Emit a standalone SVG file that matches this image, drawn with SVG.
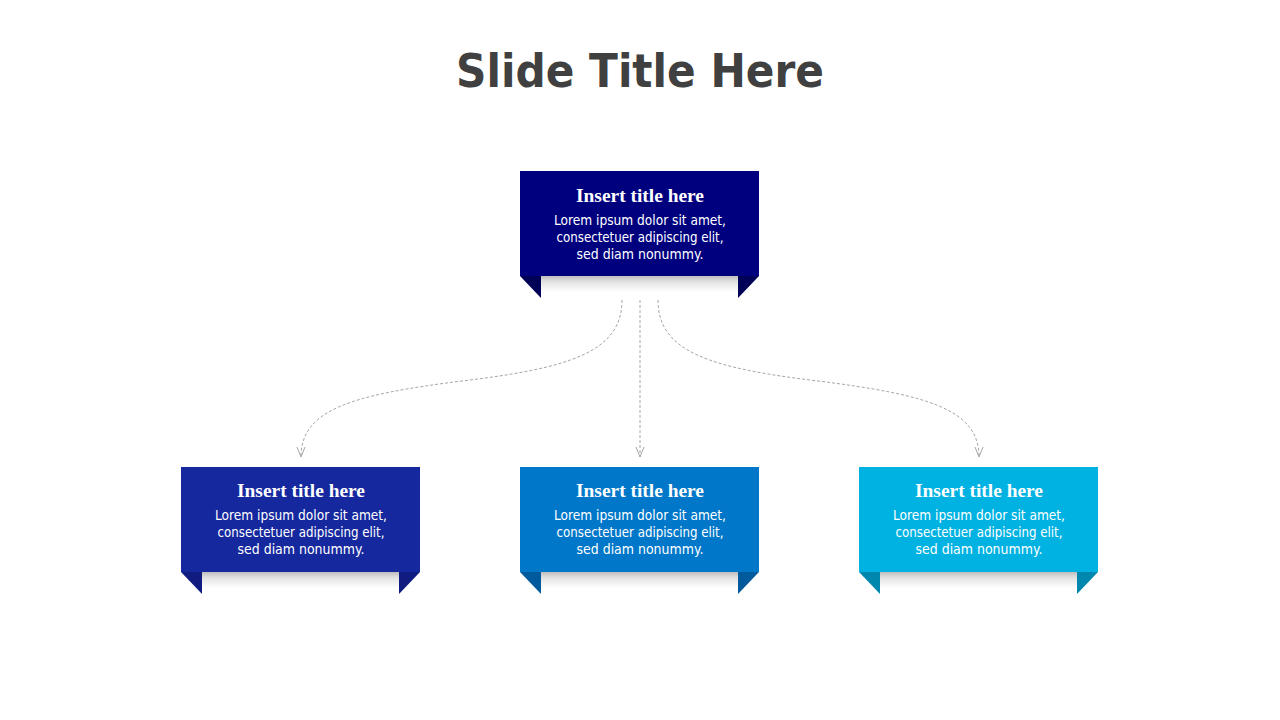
<svg xmlns="http://www.w3.org/2000/svg" width="1280" height="720" viewBox="0 0 1280 720">
<defs>
<linearGradient id="shadow" x1="0" y1="0" x2="0" y2="1">
<stop offset="0" stop-color="#bdbdbd"/>
<stop offset="0.35" stop-color="#e2e2e2"/>
<stop offset="1" stop-color="#ffffff"/>
</linearGradient>
<marker id="arr" viewBox="0 0 12 12" refX="11" refY="6" markerWidth="12" markerHeight="12" markerUnits="userSpaceOnUse" orient="auto">
<path d="M1,2 L11,6 L1,10" fill="none" stroke="#a6a6a6" stroke-width="1"/>
</marker>
</defs>
<style>
.title{font-family:"DejaVu Sans",Tahoma,sans-serif;font-weight:bold;font-size:46px;fill:#404040}
.h{font-family:"Liberation Serif","DejaVu Serif",serif;font-weight:bold;font-size:18px;fill:#ffffff}
.b{font-family:"DejaVu Sans",Tahoma,sans-serif;font-size:13.5px;fill:#ffffff}
.conn{fill:none;stroke:#a6a6a6;stroke-width:1;stroke-dasharray:3 2}
</style>
<rect width="1280" height="720" fill="#ffffff"/>
<text class="title" x="640" y="87" text-anchor="middle" textLength="368" lengthAdjust="spacingAndGlyphs">Slide Title Here</text>

<g id="connectors">
<path class="conn" d="M622,300 C622,352 570,368 462,381 C350,395 301,410 301,457" marker-end="url(#arr)"/>
<path class="conn" d="M640,300 L640,457" marker-end="url(#arr)"/>
<path class="conn" d="M658,300 C658,352 710,368 818,381 C930,395 979,410 979,457" marker-end="url(#arr)"/>
</g>

<g id="node-top">
<rect x="541" y="276" width="197" height="16" fill="url(#shadow)"/>
<polygon points="520,276 541,276 541,298" fill="#000057"/>
<polygon points="738,276 759,276 738,298" fill="#000057"/>
<rect x="520" y="171" width="239" height="105" fill="#00007f"/>
<text class="h" x="640" y="202" text-anchor="middle" textLength="128" lengthAdjust="spacingAndGlyphs">Insert title here</text>
<text class="b" x="640" y="225" text-anchor="middle" textLength="172" lengthAdjust="spacingAndGlyphs">Lorem ipsum dolor sit amet,</text>
<text class="b" x="640" y="242" text-anchor="middle" textLength="167" lengthAdjust="spacingAndGlyphs">consectetuer adipiscing elit,</text>
<text class="b" x="640" y="259" text-anchor="middle" textLength="127" lengthAdjust="spacingAndGlyphs">sed diam nonummy.</text>
</g>

<g id="node-left">
<rect x="202" y="572" width="197" height="16" fill="url(#shadow)"/>
<polygon points="181,572 202,572 202,594" fill="#101c80"/>
<polygon points="399,572 420,572 399,594" fill="#101c80"/>
<rect x="181" y="467" width="239" height="105" fill="#15289e"/>
<text class="h" x="301" y="497" text-anchor="middle" textLength="128" lengthAdjust="spacingAndGlyphs">Insert title here</text>
<text class="b" x="301" y="520" text-anchor="middle" textLength="172" lengthAdjust="spacingAndGlyphs">Lorem ipsum dolor sit amet,</text>
<text class="b" x="301" y="537" text-anchor="middle" textLength="167" lengthAdjust="spacingAndGlyphs">consectetuer adipiscing elit,</text>
<text class="b" x="301" y="554" text-anchor="middle" textLength="127" lengthAdjust="spacingAndGlyphs">sed diam nonummy.</text>
</g>

<g id="node-middle">
<rect x="541" y="572" width="197" height="16" fill="url(#shadow)"/>
<polygon points="520,572 541,572 541,594" fill="#005a9c"/>
<polygon points="738,572 759,572 738,594" fill="#005a9c"/>
<rect x="520" y="467" width="239" height="105" fill="#0077c8"/>
<text class="h" x="640" y="497" text-anchor="middle" textLength="128" lengthAdjust="spacingAndGlyphs">Insert title here</text>
<text class="b" x="640" y="520" text-anchor="middle" textLength="172" lengthAdjust="spacingAndGlyphs">Lorem ipsum dolor sit amet,</text>
<text class="b" x="640" y="537" text-anchor="middle" textLength="167" lengthAdjust="spacingAndGlyphs">consectetuer adipiscing elit,</text>
<text class="b" x="640" y="554" text-anchor="middle" textLength="127" lengthAdjust="spacingAndGlyphs">sed diam nonummy.</text>
</g>

<g id="node-right">
<rect x="880" y="572" width="197" height="16" fill="url(#shadow)"/>
<polygon points="859,572 880,572 880,594" fill="#0087ad"/>
<polygon points="1077,572 1098,572 1077,594" fill="#0087ad"/>
<rect x="859" y="467" width="239" height="105" fill="#00b2e2"/>
<text class="h" x="979" y="497" text-anchor="middle" textLength="128" lengthAdjust="spacingAndGlyphs">Insert title here</text>
<text class="b" x="979" y="520" text-anchor="middle" textLength="172" lengthAdjust="spacingAndGlyphs">Lorem ipsum dolor sit amet,</text>
<text class="b" x="979" y="537" text-anchor="middle" textLength="167" lengthAdjust="spacingAndGlyphs">consectetuer adipiscing elit,</text>
<text class="b" x="979" y="554" text-anchor="middle" textLength="127" lengthAdjust="spacingAndGlyphs">sed diam nonummy.</text>
</g>
</svg>
